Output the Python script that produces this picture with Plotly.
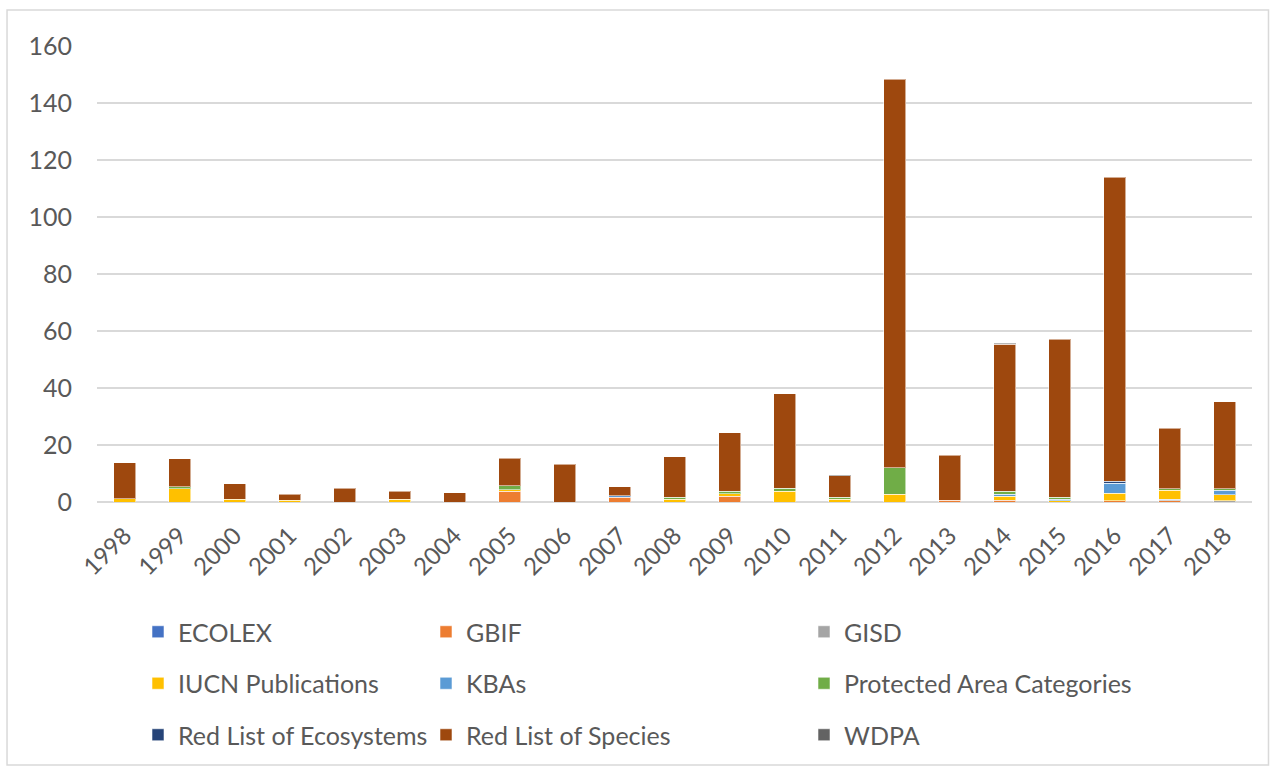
import plotly.graph_objects as go

years = [str(y) for y in range(1998, 2019)]

ecolex = [0]*21
gbif = [0, 0, 0, 0, 0, 0, 0, 3.7, 0, 1.75, 0, 2.1, 0, 0, 0, 0.6, 0.7, 0, 0.5, 0.5, 0]
gisd = [0, 0, 0, 0, 0, 0, 0, 0, 0, 0, 0, 0, 0, 0, 0, 0, 0, 0, 0, 0.4, 0.5]
iucn = [1.2, 4.7, 1.0, 0.6, 0, 1.0, 0, 0.6, 0, 0, 0.9, 0.8, 3.7, 0.9, 2.7, 0, 1.4, 0.5, 2.5, 3.3, 2.0]
kbas = [0, 0, 0, 0, 0, 0, 0, 0, 0, 0.5, 0, 0, 0, 0, 0, 0, 0.7, 0.4, 3.6, 0, 1.6]
pac = [0, 0.6, 0, 0, 0, 0, 0, 1.4, 0, 0, 0.7, 0.8, 1.05, 0.7, 9.4, 0, 0.9, 0.8, 0, 0.5, 0.5]
rle = [0, 0, 0, 0, 0, 0, 0, 0, 0, 0, 0, 0, 0, 0, 0, 0, 0, 0, 0.6, 0, 0]
rls = [12.5, 9.9, 5.4, 2.1, 4.8, 2.7, 3.3, 9.6, 13.2, 3.1, 14.2, 20.6, 33.3, 7.6, 136.2, 15.8, 51.6, 55.4, 106.8, 21.1, 30.6]
wdpa = [0, 0, 0, 0, 0, 0, 0, 0, 0, 0, 0, 0, 0, 0.4, 0, 0, 0.4, 0, 0, 0, 0]

series = [
    ("ECOLEX", ecolex, "#4472C4", "legend"),
    ("GBIF", gbif, "#ED7D31", "legend2"),
    ("GISD", gisd, "#A5A5A5", "legend3"),
    ("IUCN Publications", iucn, "#FFC000", "legend"),
    ("KBAs", kbas, "#5B9BD5", "legend2"),
    ("Protected Area Categories", pac, "#70AD47", "legend3"),
    ("Red List of Ecosystems", rle, "#264478", "legend"),
    ("Red List of Species", rls, "#9E480E", "legend2"),
    ("WDPA", wdpa, "#636363", "legend3"),
]

FONT = "Lato, Calibri, sans-serif"
TXT = "#595959"

fig = go.Figure()
for name, vals, col, lg in series:
    fig.add_trace(go.Bar(
        x=years, y=[v if v else None for v in vals], name=name,
        marker=dict(color=col, line=dict(color="rgba(255,255,255,0.55)", width=1)),
        legend=lg, legendgroup=name,
    ))

W, H = 1276, 772
L, R, T, B = 97, 23.5, 46, 270
pw = W - L - R
ph = H - T - B

def px(x):
    return (x - L) / pw

def py(y):
    return (H - B - y) / ph

def cx(x):
    return x / W

def cy(y):
    return 1 - y / H

leg_common = dict(orientation="v", yanchor="top", xanchor="left",
                  xref="container", yref="container",
                  font=dict(family=FONT, size=25, color=TXT),
                  bgcolor="rgba(0,0,0,0)", traceorder="grouped", tracegroupgap=16,
                  itemclick=False, itemdoubleclick=False)

fig.update_layout(
    width=W, height=H,
    barmode="stack", bargap=0.6,
    margin=dict(l=L, r=R, t=T, b=B, autoexpand=False),
    plot_bgcolor="white", paper_bgcolor="white",
    font=dict(family=FONT, size=22, color=TXT),
    legend=dict(x=cx(138), y=cy(609), **leg_common),
    legend2=dict(x=cx(426), y=cy(609), **leg_common),
    legend3=dict(x=cx(804), y=cy(609), **leg_common),
    xaxis=dict(tickangle=-45, showgrid=False, showline=False, ticks="", automargin=False,
               ticklabelstandoff=14,
               tickfont=dict(family=FONT, size=24, color=TXT)),
    yaxis=dict(range=[0, 160], dtick=20, showgrid=True, gridcolor="#D9D9D9", gridwidth=1.5,
               zeroline=True, zerolinecolor="#D9D9D9", zerolinewidth=1.5, automargin=False,
               showline=False, ticks="", ticklabelstandoff=24,
               tickfont=dict(family=FONT, size=25, color=TXT)),
    shapes=[dict(type="rect", xref="paper", yref="paper",
                 x0=px(7), x1=px(1269), y0=py(765), y1=py(10),
                 line=dict(color="#D9D9D9", width=1.5), fillcolor="rgba(0,0,0,0)", layer="below")],
)

fig.write_html("out.html", config={"displayModeBar": False},
               post_script="document.body.style.margin='0px';")
